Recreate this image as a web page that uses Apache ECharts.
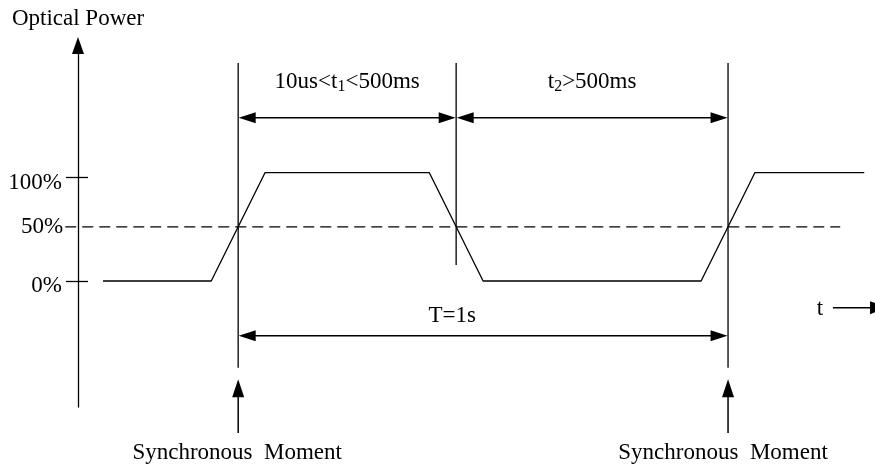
<!DOCTYPE html>
<html><head><meta charset="utf-8">
<script src="https://cdn.jsdelivr.net/npm/echarts@6/dist/echarts.min.js"></script>
<style>html,body{margin:0;padding:0;background:#fff}#c{width:875px;height:464px}</style>
</head><body><div id="c"></div>
<script>
// ---- data (time in ms, power in %) ----
const waveTime = [-276, -55, 55, 390, 500, 945, 1055, 1278];
const wavePower = [0, 0, 105, 105, 0, 0, 105, 105];
const yTickValues = [0, 100];
const yTickLabels = ['0%', '100%'];
const thresholdPower = 52.5;
const thresholdLabel = '50%';
const thresholdSpan = [-353, 1229];
const markerTimes = [0, 445, 1000];
const markerTop = [211, 211, 211];
const markerBottom = [-84, 15.5, -84];
const syncTimes = [0, 1000];
const syncArrow = [-95, -147];
const syncLabels = ['Synchronous  Moment', 'Synchronous  Moment'];
const dimStart = [0, 445, 0];
const dimEnd = [445, 1000, 1000];
const dimLevel = [158, 158, -53];
const dimLabels = ['10us<t{s|1}<500ms', 't{s|2}>500ms', 'T=1s'];
const tArrow = [1214, 1324.5, -25.8];
const tAxisLabel = 't';
const yAxisTitle = 'Optical Power';

// ---- styles ----
const FONT = "'Liberation Serif', 'Times New Roman', serif";
const FS = 23;
const dimLabelOffset = [[0, -36], [0, -36], [-31, -20]];
const syncLabelOffset = [[-1, 20.5], [-5, 20.5]];

function head(tip, dir, len, hw) {
  const bx = tip[0] - dir[0] * len, by = tip[1] - dir[1] * len;
  const nx = -dir[1], ny = dir[0];
  return {type: 'polygon', shape: {points: [[tip[0], tip[1]], [bx + nx * hw, by + ny * hw], [bx - nx * hw, by - ny * hw]]}, style: {fill: '#000'}};
}
function txt(x, y, text, align, extra) {
  return {type: 'text', x: x, y: y, style: Object.assign({text: text, fill: '#000', fontFamily: FONT, fontSize: FS, align: align || 'center', verticalAlign: 'middle'}, extra || {})};
}

const chart = echarts.init(document.getElementById('c'), null, {renderer: 'canvas'});
const lineStyle = {color: '#000', width: 1.3};
const option = {
  animation: false,
  backgroundColor: '#fff',
  grid: {left: 78, right: 0, top: 45.5, bottom: 56.95, containLabel: false, outerBoundsMode: 'none'},
  xAxis: {type: 'value', min: -327, max: 1300, show: false},
  yAxis: [{
    type: 'value', min: -122, max: 228, position: 'left',
    name: yAxisTitle, nameLocation: 'end', nameGap: 15,
    nameTextStyle: {fontFamily: FONT, fontSize: FS, color: '#000', align: 'center', verticalAlign: 'bottom'},
    axisLine: {show: true, onZero: false, symbol: ['none', 'triangle'], symbolSize: [12, 17], lineStyle: lineStyle},
    axisTick: {show: true, length: 12, customValues: yTickValues, lineStyle: lineStyle},
    axisLabel: {show: true, customValues: yTickValues, formatter: v => yTickLabels[yTickValues.indexOf(v)],
      margin: 16, fontFamily: FONT, fontSize: FS, color: '#000', verticalAlign: 'top', lineHeight: 10},
    splitLine: {show: false}
  }, {
    type: 'value', min: -122, max: 228, position: 'left',
    axisLine: {show: false, onZero: false},
    axisTick: {show: true, inside: true, length: 10, customValues: yTickValues, lineStyle: lineStyle},
    axisLabel: {show: false}, splitLine: {show: false}
  }],
  series: [
    {
      type: 'line', data: waveTime.map((t, i) => [t, wavePower[i]]),
      symbol: 'none', showSymbol: false, clip: false, silent: true,
      lineStyle: {color: '#000', width: 1.3}, z: 3
    },
    {
      type: 'custom', clip: false, silent: true,
      data: [[thresholdSpan[0], thresholdSpan[1], thresholdPower]],
      renderItem: (p, api) => {
        const a = api.coord([api.value(0), api.value(2)]);
        const b = api.coord([api.value(1), api.value(2)]);
        return {type: 'group', children: [
          {type: 'line', shape: {x1: a[0], y1: a[1], x2: b[0], y2: b[1]}, style: {stroke: '#000', lineWidth: 1.2, lineDash: [11, 6]}},
          txt(a[0] - 2, a[1], thresholdLabel, 'right')
        ]};
      }
    },
    {
      type: 'custom', clip: false, silent: true,
      data: markerTimes.map((t, i) => [t, markerTop[i], markerBottom[i]]),
      renderItem: (p, api) => {
        const a = api.coord([api.value(0), api.value(1)]);
        const b = api.coord([api.value(0), api.value(2)]);
        return {type: 'line', shape: {x1: a[0], y1: a[1], x2: b[0], y2: b[1]}, style: {stroke: '#222', lineWidth: 1.5}};
      }
    },
    {
      type: 'custom', clip: false, silent: true,
      data: syncTimes.map(t => [t, syncArrow[0], syncArrow[1]]),
      renderItem: (p, api) => {
        const tip = api.coord([api.value(0), api.value(1)]);
        const base = api.coord([api.value(0), api.value(2)]);
        const off = syncLabelOffset[p.dataIndex];
        return {type: 'group', children: [
          {type: 'line', shape: {x1: base[0], y1: base[1], x2: tip[0], y2: tip[1] + 10}, style: {stroke: '#000', lineWidth: 1.5}},
          head(tip, [0, -1], 18, 6),
          txt(base[0] + off[0], base[1] + off[1], syncLabels[p.dataIndex], 'center')
        ]};
      }
    },
    {
      type: 'custom', clip: false, silent: true,
      data: dimStart.map((s, i) => [s, dimEnd[i], dimLevel[i]]),
      renderItem: (p, api) => {
        const a = api.coord([api.value(0), api.value(2)]);
        const b = api.coord([api.value(1), api.value(2)]);
        const off = dimLabelOffset[p.dataIndex];
        return {type: 'group', children: [
          {type: 'line', shape: {x1: a[0] + 8, y1: a[1], x2: b[0] - 8, y2: b[1]}, style: {stroke: '#000', lineWidth: 1.5}},
          head([a[0] + 0.5, a[1]], [-1, 0], 17, 5.5),
          head([b[0] - 0.5, b[1]], [1, 0], 17, 5.5),
          txt((a[0] + b[0]) / 2 + off[0], a[1] + off[1], dimLabels[p.dataIndex], 'center',
            {lineHeight: 26, rich: {s: {fontFamily: FONT, fontSize: 16, lineHeight: 16, verticalAlign: 'bottom', fill: '#000'}}})
        ]};
      }
    },
    {
      type: 'custom', clip: false, silent: true,
      data: [tArrow],
      renderItem: (p, api) => {
        const a = api.coord([api.value(0), api.value(2)]);
        const b = api.coord([api.value(1), api.value(2)]);
        return {type: 'group', children: [
          {type: 'line', shape: {x1: a[0], y1: a[1], x2: b[0] - 8, y2: b[1]}, style: {stroke: '#000', lineWidth: 1.5}},
          head(b, [1, 0], 17, 6.5),
          txt(a[0] - 13, a[1] + 1, tAxisLabel, 'center')
        ]};
      }
    }
  ]
};
chart.setOption(option);
</script>
</body></html>
